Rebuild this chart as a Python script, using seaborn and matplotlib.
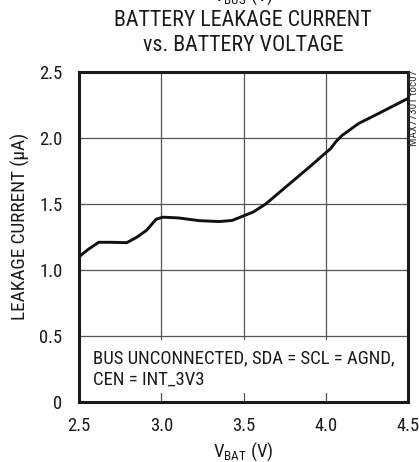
import matplotlib
matplotlib.use("Agg")
import matplotlib.pyplot as plt
import seaborn as sns
import pandas as pd
from matplotlib import font_manager
from matplotlib.patches import Rectangle

# Data
vbat = [2.50, 2.56, 2.62, 2.69, 2.79, 2.85, 2.91, 2.97, 3.01, 3.10, 3.23, 3.35, 3.43,
        3.49, 3.56, 3.635, 3.72, 3.815, 3.91, 3.997, 4.03, 4.06, 4.10, 4.20, 4.32, 4.50]
ileak = [1.10, 1.16, 1.21, 1.21, 1.207, 1.247, 1.30, 1.386, 1.40, 1.395, 1.374, 1.367, 1.375,
         1.405, 1.44, 1.50, 1.59, 1.69, 1.79, 1.885, 1.92, 1.97, 2.02, 2.11, 2.185, 2.30]
xticks = [2.5, 3.0, 3.5, 4.0, 4.5]
yticks = [0, 0.5, 1.0, 1.5, 2.0, 2.5]
ytick_labels = ["0", "0.5", "1.0", "1.5", "2.0", "2.5"]
xtick_labels = ["2.5", "3.0", "3.5", "4.0", "4.5"]

sns.set_style("white")
names = {f.name for f in font_manager.fontManager.ttflist}
fam = "Liberation Sans"
scale = 1.0
for cand in ["Roboto Condensed", "Liberation Sans Narrow", "Arial Narrow"]:
    if cand in names:
        fam = cand
        scale = 1.24
        break
plt.rcParams['font.family'] = [fam, 'DejaVu Sans']
plt.rcParams['mathtext.fontset'] = 'custom'
plt.rcParams['mathtext.rm'] = fam

W, H = 419, 462
fig = plt.figure(figsize=(W/100, H/100), dpi=100)
ax = fig.add_axes([79/W, 1-402/H, (408-79)/W, (402-72)/H])

df = pd.DataFrame({"vbat": vbat, "ileak": ileak})
sns.lineplot(data=df, x="vbat", y="ileak", ax=ax, color="#111111", linewidth=2.1, zorder=4)

ax.set_xlim(2.5, 4.5)
ax.set_ylim(0, 2.5)
ax.set_xticks(xticks)
ax.set_xticklabels(xtick_labels)
ax.set_yticks(yticks)
ax.set_yticklabels(ytick_labels)
ax.grid(True, color="#555555", linewidth=0.9)
ax.set_axisbelow(True)
ax.tick_params(length=0, labelsize=10.8*scale, colors="#1a1a1a")
ax.tick_params(axis="x", pad=11)
ax.tick_params(axis="y", pad=12)
for s in ax.spines.values():
    s.set_visible(True)
    s.set_color("#1a1a1a")
    s.set_linewidth(2.2)

ax.set_xlabel(r"V$_{\mathrm{BAT}}$ (V)", fontsize=11*scale, color="#1a1a1a", va="center")
ax.xaxis.set_label_coords(0.5, (402-452)/330)
ax.set_ylabel("LEAKAGE CURRENT (µA)", fontsize=11.2*scale, color="#1a1a1a",
              va="center", ha="center")
ax.yaxis.set_label_coords((20-79)/329, (402-226)/330)

# white box behind the note (hides grid lines)
ax.add_patch(Rectangle((0, (402-393)/330), 1, (393-340)/330, transform=ax.transAxes,
                       facecolor="white", edgecolor="none", zorder=2))
ax.text((93-79)/329, (402-363.5)/330, "BUS UNCONNECTED, SDA = SCL = AGND,", fontsize=10.9*scale,
        color="#1a1a1a", va="baseline", ha="left", transform=ax.transAxes, zorder=5)
ax.text((93-79)/329, (402-385)/330, "CEN = INT_3V3", fontsize=10.9*scale,
        color="#1a1a1a", va="baseline", ha="left", transform=ax.transAxes, zorder=5)

fig.text(243/W, 1-20.5/H, "BATTERY LEAKAGE CURRENT", ha="center", va="center",
         fontsize=12.8*scale, color="#1a1a1a")
fig.text(243/W, 1-45.5/H, "vs. BATTERY VOLTAGE", ha="center", va="center",
         fontsize=12.8*scale, color="#1a1a1a")
fig.text(243/W, 1-0.5/H, r"V$_{\mathrm{BUS}}$ (V)", ha="center", va="baseline",
         fontsize=11*scale, color="#1a1a1a")
fig.text(414/W, 1-70/H, "MAX77301 toc07", rotation=90, ha="center", va="top",
         fontsize=6.5*scale, color="#333333")

fig.savefig("out.png", dpi=100)
